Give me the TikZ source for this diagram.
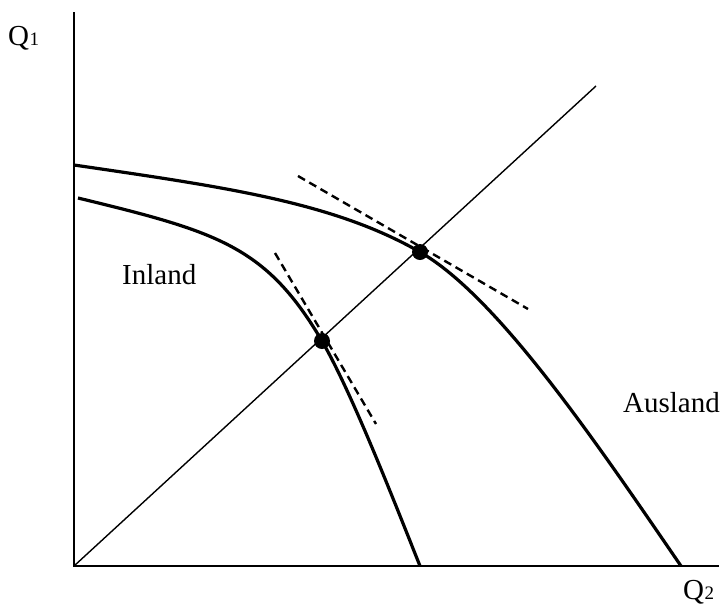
\documentclass[tikz,border=0pt]{standalone}
\usepackage{fontspec}
\setmainfont{Liberation Serif}
\begin{document}
\begin{tikzpicture}[x=1pt,y=-1pt,
  axis/.style={line width=1.8pt},
  curve/.style={line width=3.2pt,line join=round},
  tang/.style={line width=2.4pt,dash pattern=on 8pt off 5pt},
  dot/.style={circle,fill=black,inner sep=0pt,minimum size=16pt},
  lab/.style={font=\fontsize{29}{32}\selectfont,inner sep=0pt},
  sub/.style={font=\fontsize{19}{20}\selectfont,inner sep=0pt}]
\useasboundingbox (0,0) rectangle (723,606);
\coordinate (O) at (74,566);
\coordinate (ytop) at (74,12);
\coordinate (xend) at (719,566);
\coordinate (dend) at (596,86);
\draw[axis] (ytop) -- (O) -- (xend);
\draw[line width=1.4pt] (O) -- (dend);
\coordinate (a0) at (74,165);
\coordinate (a1) at (420,252);
\coordinate (a2) at (681,566);
\coordinate (b0) at (78,198);
\coordinate (b1) at (322,341);
\coordinate (b2) at (420,566);
% Ausland curve
\draw[curve] (a0) .. controls (224,187) and (333,202) .. (a1)
                  .. controls (498,297) and (596,442) .. (a2);
% Inland curve
\draw[curve] (b0) .. controls (218,232) and (266,246) .. (b1)
                  .. controls (352,393) and (394,501) .. (b2);
\coordinate (t1a) at (275,253);
\coordinate (t1b) at (376,424);
\coordinate (t2a) at (298,176);
\coordinate (t2b) at (528,309);
\draw[tang] (t1a) -- (t1b);
\draw[tang] (t2a) -- (t2b);
\node[dot] (p1) at (b1) {};
\node[dot] (p2) at (a1) {};
\node[lab,anchor=base west] (q1) at (8,45) {Q};
\node[sub,anchor=base west] (q1s) at (q1.base east) {1};
\node[lab,anchor=base west] (q2) at (683,599) {Q};
\node[sub,anchor=base west] (q2s) at (q2.base east) {2};
\node[lab,anchor=base west] (inl) at (122,284) {Inland};
\node[lab,anchor=base west] (ausl) at (623,412) {Ausland};
\end{tikzpicture}
\end{document}
